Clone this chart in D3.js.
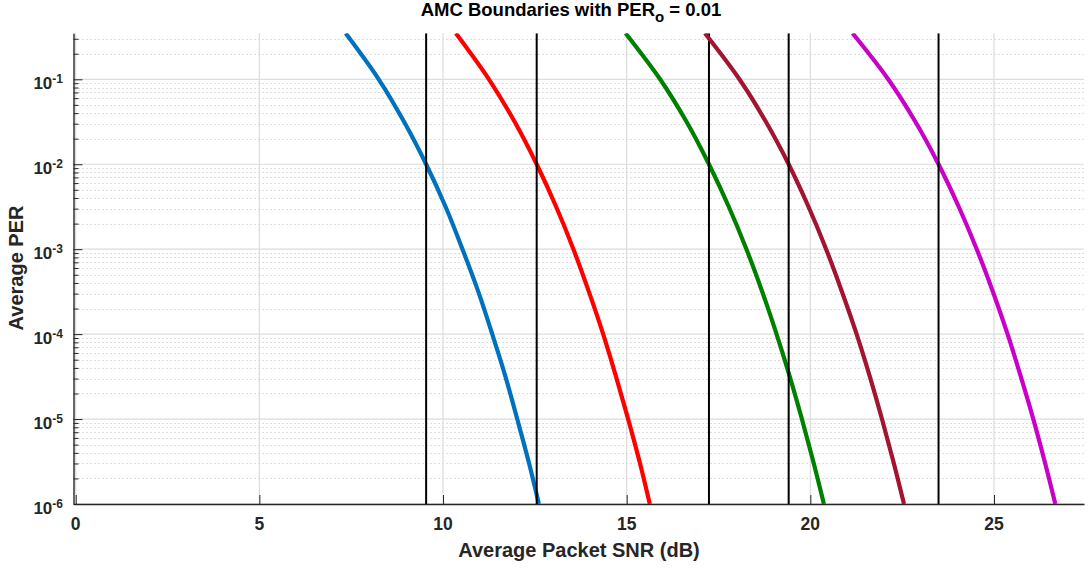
<!DOCTYPE html>
<html>
<head>
<meta charset="utf-8">
<script src="https://cdn.jsdelivr.net/npm/d3@7"></script>
<style>
  html, body { margin: 0; padding: 0; background: #fff; }
  svg { display: block; font-family: "Liberation Sans", Arial, Helvetica, sans-serif; }
</style>
</head>
<body>
<svg id="chart" width="1089" height="570"></svg>
<script>
// PER levels (half-decade steps) at which each mode's curve is sampled
const perLevels = [0.348, 1e-1, 3.16e-2, 1e-2, 3.16e-3, 1e-3, 3.16e-4, 1e-4, 3.16e-5, 1e-5, 3.16e-6, 1e-6];

// Average packet SNR (dB) for each transmission mode at the PER levels above
const snrMode1 = [7.35, 8.25, 8.94, 9.54, 10.07, 10.53, 10.96, 11.34, 11.70, 12.02, 12.33, 12.61];
const snrMode2 = [10.35, 11.25, 11.95, 12.55, 13.08, 13.55, 13.97, 14.36, 14.71, 15.04, 15.35, 15.63];
const snrMode3 = [14.97, 15.91, 16.63, 17.24, 17.78, 18.26, 18.69, 19.08, 19.44, 19.77, 20.08, 20.37];
const snrMode4 = [17.13, 18.07, 18.79, 19.41, 19.95, 20.43, 20.86, 21.26, 21.62, 21.95, 22.26, 22.55];
const snrMode5 = [21.15, 22.12, 22.86, 23.49, 24.04, 24.53, 24.97, 25.37, 25.73, 26.07, 26.38, 26.67];

// Switching thresholds where each mode reaches the target PER
const boundaries = [9.54, 12.55, 17.24, 19.41, 23.49];
const targetPER = 0.01;

const modeColors = ["#0072BD", "#FF0000", "#008000", "#A2142F", "#C800C8"];

const xTicks = [0, 5, 10, 15, 20, 25];
const yTickExps = [-6, -5, -4, -3, -2, -1];

const xDomain = [-0.06, 27.45];
const yDomain = [1e-6, 0.348];

const titleMain = "AMC Boundaries with PER";
const titleSub = "o";
const titleTail = " = " + targetPER;
const xLabel = "Average Packet SNR (dB)";
const yLabel = "Average PER";

const modes = [snrMode1, snrMode2, snrMode3, snrMode4, snrMode5].map((snr, i) => ({
  color: modeColors[i],
  points: snr.map((s, j) => ({ snr: s, per: perLevels[j] }))
}));

const svg = d3.select("#chart");
const pL = 73.5, pR = 1084, pT = 33.3, pB = 504;

const x = d3.scaleLinear().domain(xDomain).range([pL, pR]);
const y = d3.scaleLog().domain(yDomain).range([pB, pT]);

const axisColor = "#262626";

// clip region for the plotted data
svg.append("defs").append("clipPath").attr("id", "plotArea")
  .append("rect").attr("x", pL).attr("y", pT)
  .attr("width", pR - pL).attr("height", pB - pT);

// minor horizontal grid (2..9 x 10^k)
const minorVals = [];
for (let e = -6; e <= -1; e++) {
  for (let m = 2; m <= 9; m++) {
    const v = m * Math.pow(10, e);
    if (v <= yDomain[1]) minorVals.push(v);
  }
}
svg.append("g").selectAll("line").data(minorVals).join("line")
  .attr("x1", pL + 1).attr("x2", pR)
  .attr("y1", d => Math.round(y(d)) + 0.5).attr("y2", d => Math.round(y(d)) + 0.5)
  .attr("stroke", "#bdbdbd").attr("stroke-width", 1)
  .attr("stroke-dasharray", "1,3");

// major grid
const majorY = yTickExps.map(e => Math.pow(10, e));
svg.append("g").selectAll("line").data(majorY).join("line")
  .attr("x1", pL).attr("x2", pR)
  .attr("y1", d => y(d)).attr("y2", d => y(d))
  .attr("stroke", "#dcdcdc").attr("stroke-width", 1.2);
svg.append("g").selectAll("line").data(xTicks).join("line")
  .attr("x1", d => x(d)).attr("x2", d => x(d))
  .attr("y1", pT).attr("y2", pB)
  .attr("stroke", "#dcdcdc").attr("stroke-width", 1.2);

// axes: x at bottom, y at left, ticks pointing inward
const xAxis = d3.axisBottom(x).tickValues(xTicks).tickSizeInner(-9).tickSizeOuter(0).tickFormat("");
const gx = svg.append("g").attr("transform", `translate(0,${pB})`).call(xAxis);
gx.select(".domain").attr("stroke", axisColor).attr("stroke-width", 1.4);
gx.selectAll(".tick line").attr("stroke", axisColor).attr("stroke-width", 1);

const yAxis = d3.axisLeft(y).tickValues(majorY).tickSizeInner(-9).tickSizeOuter(0).tickFormat("");
const gy = svg.append("g").attr("transform", `translate(${pL},0)`).call(yAxis);
gy.select(".domain").attr("stroke", axisColor).attr("stroke-width", 1.4);
gy.selectAll(".tick line").attr("stroke", axisColor).attr("stroke-width", 1);

const yMinorAxis = d3.axisLeft(y).tickValues(minorVals).tickSizeInner(-5).tickSizeOuter(0).tickFormat("");
const gym = svg.append("g").attr("transform", `translate(${pL},0)`).call(yMinorAxis);
gym.select(".domain").remove();
gym.selectAll(".tick line").attr("stroke", axisColor).attr("stroke-width", 1);

// x tick labels
svg.append("g").selectAll("text").data(xTicks).join("text")
  .attr("x", d => x(d)).attr("y", 530)
  .attr("text-anchor", "middle")
  .attr("font-size", 17.5).attr("font-weight", "bold").attr("fill", axisColor)
  .text(d => d);

// y tick labels as 10 with superscript exponent
const yl = svg.append("g").selectAll("text").data(yTickExps).join("text")
  .attr("x", 63).attr("y", d => y(Math.pow(10, d)) + 9.5)
  .attr("text-anchor", "end")
  .attr("font-weight", "bold").attr("fill", axisColor);
yl.append("tspan").attr("font-size", 17).text("10");
yl.append("tspan").attr("font-size", 12).attr("dy", -6).text(d => d);

// mode curves and their switching boundaries
const line = d3.line().x(d => x(d.snr)).y(d => y(d.per)).curve(d3.curveCatmullRom.alpha(0.5));
const plot = svg.append("g").attr("clip-path", "url(#plotArea)");
modes.forEach((m, i) => {
  plot.append("path").datum(m.points)
    .attr("d", line)
    .attr("fill", "none").attr("stroke", m.color).attr("stroke-width", 4.2);
  plot.append("line")
    .attr("x1", x(boundaries[i])).attr("x2", x(boundaries[i]))
    .attr("y1", y(yDomain[0])).attr("y2", y(yDomain[1]))
    .attr("stroke", "#000").attr("stroke-width", 2);
});

// title
const t = svg.append("text").attr("x", 571).attr("y", 16)
  .attr("text-anchor", "middle").attr("font-size", 18.5).attr("font-weight", "bold").attr("fill", "#000");
t.append("tspan").text(titleMain);
t.append("tspan").attr("font-size", 15).attr("dy", 6).text(titleSub);
t.append("tspan").attr("dy", -6).text(titleTail);

// axis labels
svg.append("text").attr("x", 579).attr("y", 557)
  .attr("text-anchor", "middle").attr("font-size", 20).attr("font-weight", "bold").attr("fill", axisColor)
  .text(xLabel);
svg.append("text")
  .attr("transform", `translate(23,268) rotate(-90)`)
  .attr("text-anchor", "middle").attr("font-size", 20).attr("font-weight", "bold").attr("fill", axisColor)
  .text(yLabel);
</script>
</body>
</html>
